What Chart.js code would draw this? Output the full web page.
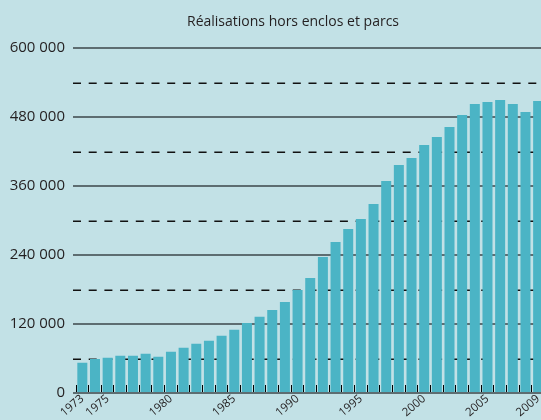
<!DOCTYPE html>
<html>
<head>
<meta charset="utf-8">
<script src="https://cdn.jsdelivr.net/npm/chart.js@4"></script>
<style>
  html, body { margin: 0; padding: 0; background: #c2e1e6; overflow: hidden; }
  #wrap { width: 554px; height: 420px; }
</style>
</head>
<body>
<div id="wrap"><canvas id="c" width="554" height="420"></canvas></div>
<script>
const chartTitle = 'Réalisations hors enclos et parcs';
const years = ['1973','1974','1975','1976','1977','1978','1979','1980','1981','1982',
  '1983','1984','1985','1986','1987','1988','1989','1990','1991','1992','1993','1994',
  '1995','1996','1997','1998','1999','2000','2001','2002','2003','2004','2005','2006',
  '2007','2008','2009'];
const values = [52700, 59100, 61400, 64900, 64900, 68300, 63100, 71800, 78800, 85700,
  91000, 99400, 109800, 121700, 132500, 144300, 158300, 179100, 200000, 236500, 262600, 285200,
  302600, 328700, 368700, 396500, 408700, 431300, 445200, 462600, 483500, 502600, 506100, 509600,
  502600, 488700, 507800];
const shownYearLabels = ['1973','1975','1980','1985','1990','1995','2000','2005','2009'];
const yMin = 0, yMax = 600000, yMajorStep = 120000, yMinorStep = 60000;

const BG = '#c2e1e6', BAR = '#4bb4c5', GRID = '#5d6d71', TEXT = '#231f20';
const FONT = "'Open Sans', 'DejaVu Sans', sans-serif";

const titlePlugin = {
  id: 'customTitle',
  afterDraw(chart) {
    const ctx = chart.ctx;
    ctx.save();
    ctx.font = "14px " + FONT;
    ctx.fillStyle = TEXT;
    ctx.textAlign = 'center';
    ctx.textBaseline = 'middle';
    ctx.fillText(chartTitle, 293, 22);
    ctx.restore();
  }
};

// dashed minor grid lines, placed from the y2 scale's own ticks
const dashedGridPlugin = {
  id: 'dashedGrid',
  beforeDatasetsDraw(chart) {
    const scale = chart.scales.y2;
    const area = chart.chartArea;
    const ctx = chart.ctx;
    ctx.save();
    ctx.strokeStyle = '#111';
    ctx.lineWidth = 1.5;
    ctx.setLineDash([8, 7.7]);
    scale.ticks.forEach((t, i) => {
      if (t.value % yMajorStep === 0) return;
      const y = Math.round(scale.getPixelForTick(i)) + 0.25;
      ctx.beginPath();
      ctx.moveTo(area.left - 3, y);
      ctx.lineTo(area.right, y);
      ctx.stroke();
    });
    ctx.restore();
  }
};

function fmt(v) {
  return String(v).replace(/\B(?=(\d{3})+(?!\d))/g, ' ');
}

new Chart(document.getElementById('c'), {
  type: 'bar',
  data: {
    labels: years,
    datasets: [{
      data: values,
      backgroundColor: BAR,
      borderWidth: 0,
      categoryPercentage: 1.0,
      barPercentage: 0.79
    }]
  },
  options: {
    responsive: false,
    animation: false,
    layout: { padding: { top: 48, left: 0, right: 0, bottom: 0 } },
    plugins: { legend: { display: false }, title: { display: false }, tooltip: { enabled: false } },
    scales: {
      x: {
        type: 'category',
        offset: true,
        afterFit(s) { s.height = 27; },
        grid: {
          display: true,
          drawOnChartArea: false,
          drawTicks: true,
          tickLength: -8,
          offset: true,
          color: '#000',
          lineWidth: 1
        },
        border: { display: true, color: GRID, width: 2 },
        ticks: {
          autoSkip: false,
          minRotation: 40,
          maxRotation: 40,
          padding: 7,
          color: TEXT,
          font: { family: FONT, size: 11.5 },
          callback(value, index) {
            const lab = this.getLabelForValue(value);
            return shownYearLabels.includes(lab) ? lab : '';
          }
        }
      },
      y: {
        position: 'left',
        weight: 2,
        min: yMin, max: yMax,
        afterFit(s) { s.width = 76; },
        ticks: {
          stepSize: yMajorStep,
          padding: 8,
          color: TEXT,
          font: { family: FONT, size: 15 },
          callback: (v) => fmt(v)
        },
        grid: { color: GRID, lineWidth: 2, drawTicks: true, tickLength: 3 },
        border: { display: false }
      },
      y2: {
        position: 'left',
        weight: 1,
        min: yMin, max: yMax,
        afterFit(s) { s.width = 0; },
        ticks: { stepSize: yMinorStep, display: false },
        grid: { display: false, drawTicks: false },
        border: { display: false }
      }
    }
  },
  plugins: [dashedGridPlugin, titlePlugin]
});
</script>
</body>
</html>
